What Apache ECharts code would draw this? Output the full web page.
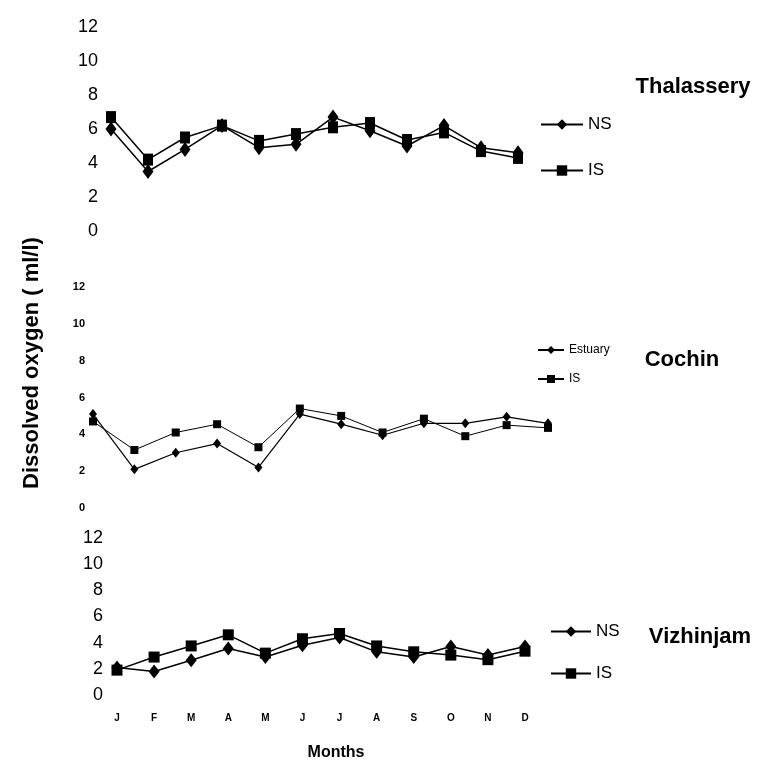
<!DOCTYPE html>
<html>
<head>
<meta charset="utf-8">
<script src="https://cdn.jsdelivr.net/npm/echarts@6/dist/echarts.min.js"></script>
<style>html,body{margin:0;padding:0;background:#fff}#c{width:767px;height:767px}</style>
</head>
<body>
<div id="c"></div>
<script>
const months = ['J','F','M','A','M','J','J','A','S','O','N','D'];
const yTicks = [0, 2, 4, 6, 8, 10, 12];

const thalNS = [6.0, 3.5, 4.8, 6.2, 4.9, 5.1, 6.7, 5.9, 5.0, 6.2, 4.9, 4.6];
const thalIS = [6.7, 4.2, 5.5, 6.2, 5.3, 5.7, 6.1, 6.35, 5.35, 5.8, 4.7, 4.3];

const cochEstuary = [5.1, 2.1, 3.0, 3.5, 2.2, 5.1, 4.55, 3.95, 4.6, 4.6, 4.95, 4.6];
const cochIS = [4.7, 3.15, 4.1, 4.55, 3.3, 5.4, 5.0, 4.1, 4.85, 3.9, 4.5, 4.35];

const vizhNS = [2.1, 1.8, 2.65, 3.55, 2.9, 3.8, 4.4, 3.3, 2.9, 3.7, 3.05, 3.7];
const vizhIS = [1.9, 2.9, 3.75, 4.6, 3.2, 4.3, 4.7, 3.75, 3.3, 3.05, 2.7, 3.35];

const narrow = '"Liberation Sans Narrow", "Liberation Sans", Arial, sans-serif';
const sans = '"Liberation Sans", Arial, sans-serif';

const chart = echarts.init(document.getElementById('c'));

function yAxis(gi, fontSize, margin, bold, family) {
  return {
    type: 'value', gridIndex: gi, min: yTicks[0], max: yTicks[yTicks.length - 1], interval: yTicks[1] - yTicks[0],
    axisLine: {show: false}, axisTick: {show: false}, splitLine: {show: false},
    axisLabel: {fontSize: fontSize, margin: margin, color: '#000', fontFamily: family, fontWeight: bold ? 'bold' : 'normal'}
  };
}
function xAxis(gi, showLabel) {
  return {
    type: 'category', gridIndex: gi, data: months, boundaryGap: false,
    axisLine: {show: false}, axisTick: {show: false}, splitLine: {show: false},
    axisLabel: {show: showLabel, fontSize: 10, fontWeight: 'bold', color: '#000', margin: 18, fontFamily: sans}
  };
}
function line(name, gi, data, symbol, size, width) {
  return {
    name: name, type: 'line', xAxisIndex: gi, yAxisIndex: gi, data: data,
    symbol: symbol, symbolSize: size, showAllSymbol: true,
    lineStyle: {color: '#000', width: width},
    itemStyle: {color: '#000'},
    emphasis: {disabled: true}, animation: false
  };
}
const labelMap = {tNS: 'NS', tIS: 'IS', cE: 'Estuary', cIS: 'IS', vNS: 'NS', vIS: 'IS'};

chart.setOption({
  backgroundColor: '#fff',
  animation: false,
  grid: [
    {left: 111, width: 407, top: 27, height: 204},
    {left: 93, width: 455, top: 287, height: 221},
    {left: 117, width: 408, top: 538, height: 157}
  ],
  xAxis: [xAxis(0, false), xAxis(1, false), xAxis(2, true)],
  yAxis: [yAxis(0, 18, 13, false, narrow), yAxis(1, 11, 8, true, sans), yAxis(2, 18, 14, false, narrow)],
  legend: [
    {data: ['tNS', 'tIS'], orient: 'vertical', left: 535, top: 111, itemWidth: 42, itemHeight: 13, itemGap: 29,
     formatter: n => labelMap[n], textStyle: {fontSize: 17, fontFamily: narrow, color: '#000'}},
    {data: ['cE', 'cIS'], orient: 'vertical', left: 532, top: 339, itemWidth: 26, itemHeight: 10, itemGap: 17,
     formatter: n => labelMap[n], textStyle: {fontSize: 12, fontFamily: narrow, color: '#000'}},
    {data: ['vNS', 'vIS'], orient: 'vertical', left: 545, top: 618, itemWidth: 40, itemHeight: 13, itemGap: 25,
     formatter: n => labelMap[n], textStyle: {fontSize: 17, fontFamily: narrow, color: '#000'}}
  ],
  series: [
    line('tNS', 0, thalNS, 'diamond', [11, 15], 1.5),
    line('tIS', 0, thalIS, 'rect', [10, 12], 1.5),
    line('cE', 1, cochEstuary, 'diamond', [8, 10], 1.2),
    line('cIS', 1, cochIS, 'rect', [8, 8], 1),
    line('vNS', 2, vizhNS, 'diamond', [11, 14], 1.5),
    line('vIS', 2, vizhIS, 'rect', [11, 11], 1.5)
  ],
  graphic: [
    {type: 'text', x: 32, y: 363, rotation: Math.PI / 2,
     style: {text: 'Dissolved oxygen ( ml/l)', font: 'bold 22px ' + sans, fill: '#000', align: 'center', verticalAlign: 'middle'}},
    {type: 'text', x: 336, y: 753,
     style: {text: 'Months', font: 'bold 16px ' + sans, fill: '#000', align: 'center', verticalAlign: 'middle'}},
    {type: 'text', x: 693, y: 87,
     style: {text: 'Thalassery', font: 'bold 22px ' + narrow, fill: '#000', align: 'center', verticalAlign: 'middle'}},
    {type: 'text', x: 682, y: 360,
     style: {text: 'Cochin', font: 'bold 22px ' + sans, fill: '#000', align: 'center', verticalAlign: 'middle'}},
    {type: 'text', x: 700, y: 637,
     style: {text: 'Vizhinjam', font: 'bold 22px ' + sans, fill: '#000', align: 'center', verticalAlign: 'middle'}}
  ]
});
</script>
</body>
</html>
